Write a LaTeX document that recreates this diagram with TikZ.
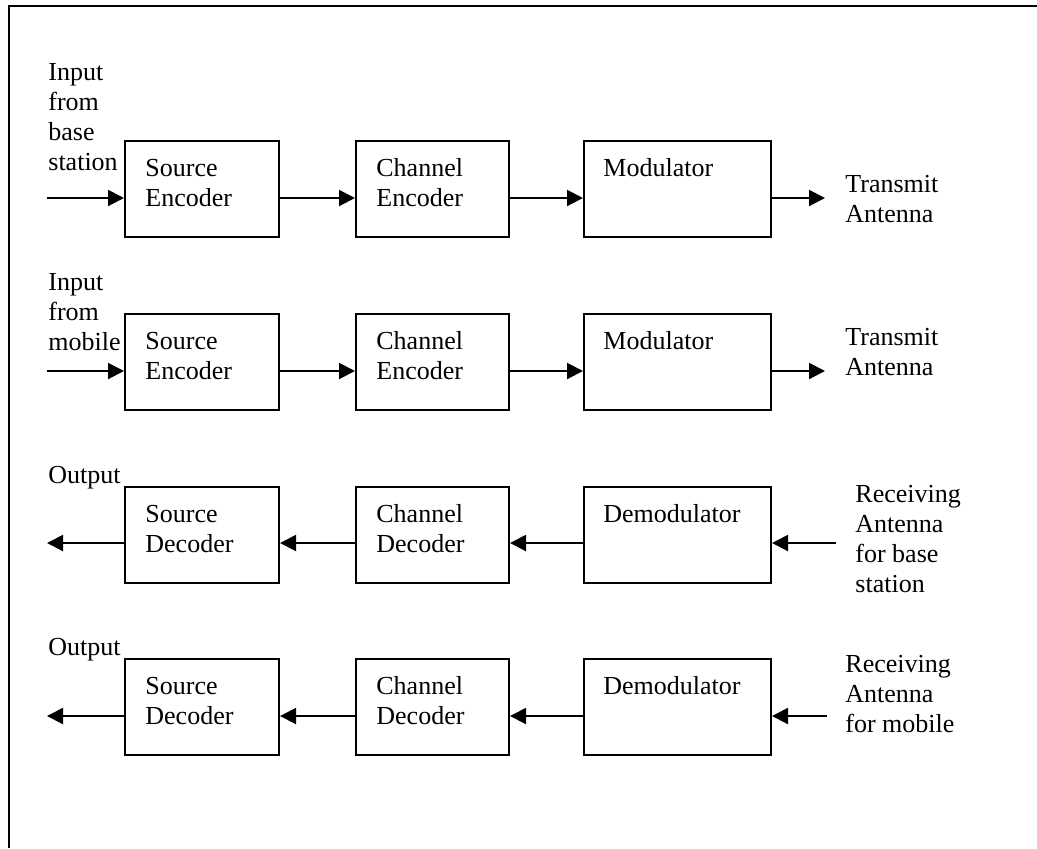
\documentclass[tikz,border=0pt]{standalone}
\usepackage{fontspec}
\setmainfont{Liberation Serif}
\usepackage{tikz}
\usetikzlibrary{arrows.meta, calc, positioning}
\tikzset{
  blk/.style = {rectangle, draw, line width=1pt, anchor=north west, inner sep=0pt, minimum height=48pt},
  srcblk/.style = {blk, minimum width=77pt},
  chnblk/.style = {blk, minimum width=76.5pt},
  modblk/.style = {blk, minimum width=93.5pt},
  blktxt/.style = {anchor=north west, inner sep=0pt, align=left, font=\fontsize{13}{15}\selectfont},
  sig/.style = {line width=1pt, -{Triangle[length=8pt,width=8pt]}}
}

\begin{document}
\begin{tikzpicture}[x=0.5pt, y=-0.5pt]
    \useasboundingbox (0,0) rectangle (1037,848);
    \draw[line width=1.2pt] (1037,6) -| (9,848);

    % transmitter, base station
    \node[srcblk] (se1) at (124,140) {};
    \node[chnblk] (ce1) at (355,140) {};
    \node[modblk] (md1) at (583,140) {};
    \node[blktxt] (se1t) at ($(se1.north west)+(21,18.5)$) {Source\\Encoder};
    \node[blktxt] (ce1t) at ($(ce1.north west)+(21,18.5)$) {Channel\\Encoder};
    \node[blktxt] (md1t) at ($(md1.north west)+(20,18.5)$) {Modulator};
    \node[blktxt] (in1t) at (48,63) {Input\\from\\base\\station};
    \node[blktxt] (tx1t) at (845,175) {Transmit\\Antenna};
    \coordinate (in1) at (47,198);
    \coordinate (tx1) at (825,198);
    \draw[sig] (in1) -- (se1.west |- in1);
    \draw[sig] (se1.east |- in1) -- (ce1.west |- in1);
    \draw[sig] (ce1.east |- in1) -- (md1.west |- in1);
    \draw[sig] (md1.east |- in1) -- (tx1);

    % transmitter, mobile
    \node[srcblk] (se2) at (124,313) {};
    \node[chnblk] (ce2) at (355,313) {};
    \node[modblk] (md2) at (583,313) {};
    \node[blktxt] (se2t) at ($(se2.north west)+(21,18.5)$) {Source\\Encoder};
    \node[blktxt] (ce2t) at ($(ce2.north west)+(21,18.5)$) {Channel\\Encoder};
    \node[blktxt] (md2t) at ($(md2.north west)+(20,18.5)$) {Modulator};
    \node[blktxt] (in2t) at (48,273) {Input\\from\\mobile};
    \node[blktxt] (tx2t) at (845,328) {Transmit\\Antenna};
    \coordinate (in2) at (47,371);
    \coordinate (tx2) at (825,371);
    \draw[sig] (in2) -- (se2.west |- in2);
    \draw[sig] (se2.east |- in2) -- (ce2.west |- in2);
    \draw[sig] (ce2.east |- in2) -- (md2.west |- in2);
    \draw[sig] (md2.east |- in2) -- (tx2);

    % receiver, base station
    \node[srcblk] (sd3) at (124,486) {};
    \node[chnblk] (cd3) at (355,486) {};
    \node[modblk] (dm3) at (583,486) {};
    \node[blktxt] (sd3t) at ($(sd3.north west)+(21,18.5)$) {Source\\Decoder};
    \node[blktxt] (cd3t) at ($(cd3.north west)+(21,18.5)$) {Channel\\Decoder};
    \node[blktxt] (dm3t) at ($(dm3.north west)+(20,18.5)$) {Demodulator};
    \node[blktxt] (out3t) at (48,466) {Output};
    \node[blktxt] (rx3t) at (855,485) {Receiving\\Antenna\\for base\\station};
    \coordinate (rx3) at (836,543);
    \coordinate (out3) at (47,543);
    \draw[sig] (rx3) -- (dm3.east |- rx3);
    \draw[sig] (dm3.west |- rx3) -- (cd3.east |- rx3);
    \draw[sig] (cd3.west |- rx3) -- (sd3.east |- rx3);
    \draw[sig] (sd3.west |- rx3) -- (out3);

    % receiver, mobile
    \node[srcblk] (sd4) at (124,658) {};
    \node[chnblk] (cd4) at (355,658) {};
    \node[modblk] (dm4) at (583,658) {};
    \node[blktxt] (sd4t) at ($(sd4.north west)+(21,18.5)$) {Source\\Decoder};
    \node[blktxt] (cd4t) at ($(cd4.north west)+(21,18.5)$) {Channel\\Decoder};
    \node[blktxt] (dm4t) at ($(dm4.north west)+(20,18.5)$) {Demodulator};
    \node[blktxt] (out4t) at (48,638) {Output};
    \node[blktxt] (rx4t) at (845,655) {Receiving\\Antenna\\for mobile};
    \coordinate (rx4) at (827,716);
    \coordinate (out4) at (47,716);
    \draw[sig] (rx4) -- (dm4.east |- rx4);
    \draw[sig] (dm4.west |- rx4) -- (cd4.east |- rx4);
    \draw[sig] (cd4.west |- rx4) -- (sd4.east |- rx4);
    \draw[sig] (sd4.west |- rx4) -- (out4);
\end{tikzpicture}
\end{document}
